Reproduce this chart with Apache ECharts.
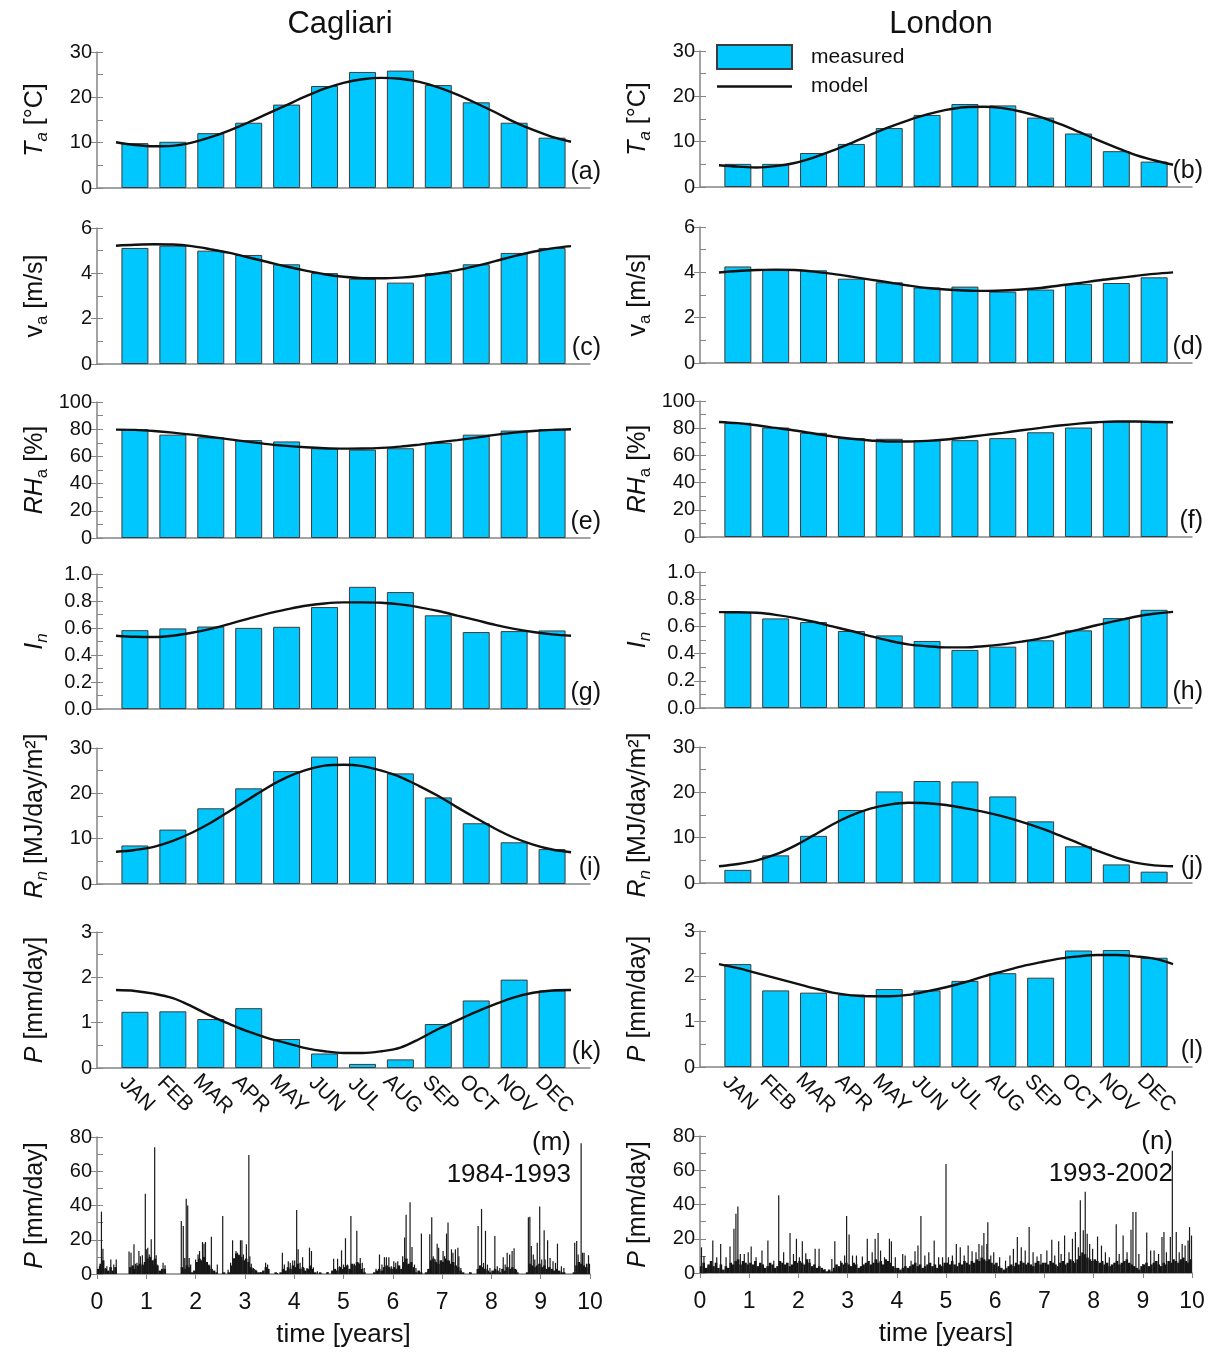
<!DOCTYPE html>
<html>
<head>
<meta charset="utf-8">
<title>Cagliari / London climate</title>
<script src="https://cdn.jsdelivr.net/npm/echarts@6/dist/echarts.min.js"></script>
<style>
  html, body { margin: 0; padding: 0; background: #fff; }
  #chart { width: 1215px; height: 1353px; }
</style>
</head>
<body>
<div id="chart"></div>
<script>
// ---------- data ----------
const MONTHS = ['JAN', 'FEB', 'MAR', 'APR', 'MAY', 'JUN', 'JUL', 'AUG', 'SEP', 'OCT', 'NOV', 'DEC'];
// sampling times (in months) of the fitted model curves
const MODEL_T = [0.5, 1, 1.5, 2, 2.5, 3, 3.5, 4, 4.5, 5, 5.5, 6, 6.5, 7, 7.5, 8, 8.5, 9, 9.5, 10, 10.5, 11, 11.5, 12, 12.5];

// air temperature [°C]
const caTa = [9.9, 10.2, 12.1, 14.4, 18.4, 22.5, 25.6, 25.9, 22.7, 18.9, 14.4, 11.1];
const caTaModel = [10.1, 9.5, 9.2, 9.3, 10.0, 11.2, 12.7, 14.5, 16.4, 18.3, 20.2, 21.9, 23.2, 24.0, 24.3, 24.1, 23.4, 22.2, 20.6, 18.7, 16.7, 14.6, 12.8, 11.3, 10.2];
const laTa = [5.1, 5.1, 7.5, 9.5, 13.0, 15.9, 18.3, 18.0, 15.3, 11.8, 7.9, 5.6];
const laTaModel = [4.8, 4.5, 4.3, 4.6, 5.3, 6.5, 8.0, 9.7, 11.5, 13.2, 14.7, 16.0, 17.0, 17.6, 17.7, 17.4, 16.6, 15.4, 13.9, 12.2, 10.4, 8.7, 7.1, 5.9, 4.9];

// wind speed [m/s]
const caVa = [5.12, 5.22, 5.0, 4.81, 4.4, 4.01, 3.76, 3.59, 4.01, 4.4, 4.9, 5.12];
const caVaModel = [5.22, 5.26, 5.28, 5.27, 5.2, 5.06, 4.9, 4.7, 4.5, 4.3, 4.12, 3.96, 3.85, 3.79, 3.78, 3.81, 3.88, 3.99, 4.14, 4.33, 4.54, 4.76, 4.95, 5.1, 5.2];
const laVa = [4.26, 4.1, 4.09, 3.72, 3.56, 3.33, 3.37, 3.15, 3.24, 3.49, 3.53, 3.78];
const laVaModel = [3.99, 4.06, 4.1, 4.12, 4.1, 4.03, 3.93, 3.81, 3.68, 3.55, 3.42, 3.31, 3.24, 3.2, 3.18, 3.2, 3.24, 3.31, 3.42, 3.52, 3.64, 3.74, 3.84, 3.93, 4.0];

// relative humidity [%]
const caRh = [80, 76, 74, 72, 71, 66, 65, 66, 70, 76, 79, 80];
const caRhModel = [79.7, 79.5, 78.7, 77.5, 76, 74.3, 72.5, 70.7, 69, 67.7, 66.7, 66, 65.7, 65.8, 66.3, 67.2, 68.7, 70.4, 72, 73.8, 75.8, 77.5, 78.7, 79.5, 80];
const laRh = [84, 80.5, 76.6, 72.7, 72.2, 71.2, 71.2, 72.7, 77, 80.5, 85.1, 85.1];
const laRhModel = [84.6, 83.7, 82.2, 80.2, 78.3, 76.1, 73.9, 72.2, 71, 70.2, 70.2, 70.7, 71.7, 73.2, 74.9, 76.6, 78.5, 80.2, 82, 83.4, 84.4, 84.9, 84.9, 84.6, 84.4];

// clearness index
const caIn = [0.584, 0.597, 0.611, 0.601, 0.609, 0.755, 0.905, 0.866, 0.694, 0.57, 0.577, 0.582];
const caInModel = [0.543, 0.535, 0.533, 0.543, 0.565, 0.594, 0.631, 0.67, 0.707, 0.738, 0.765, 0.782, 0.79, 0.79, 0.787, 0.775, 0.753, 0.726, 0.692, 0.658, 0.623, 0.594, 0.57, 0.553, 0.543];
const laIn = [0.702, 0.659, 0.632, 0.566, 0.534, 0.493, 0.427, 0.451, 0.498, 0.571, 0.661, 0.722];
const laInModel = [0.705, 0.705, 0.7, 0.685, 0.663, 0.634, 0.6, 0.566, 0.529, 0.495, 0.468, 0.454, 0.446, 0.446, 0.454, 0.468, 0.488, 0.512, 0.544, 0.576, 0.61, 0.641, 0.671, 0.693, 0.707];

// net radiation [MJ/day/m²]
const caRn = [8.5, 12.0, 16.7, 21.1, 24.9, 28.1, 28.1, 24.4, 19.1, 13.4, 9.2, 7.7];
const caRnModel = [7.1, 7.5, 8.2, 9.5, 11.3, 13.5, 16.1, 18.7, 21.3, 23.5, 25.1, 26.1, 26.3, 26.0, 25.0, 23.6, 21.6, 19.4, 16.9, 14.5, 12.2, 10.2, 8.7, 7.6, 7.0];
const laRn = [2.9, 6.1, 10.4, 16.1, 20.2, 22.5, 22.4, 19.1, 13.6, 8.1, 4.1, 2.5];
const laRnModel = [3.7, 4.2, 5.0, 6.3, 8.2, 10.5, 12.9, 14.9, 16.4, 17.3, 17.7, 17.6, 17.2, 16.5, 15.7, 14.7, 13.5, 12.1, 10.5, 8.8, 7.1, 5.6, 4.5, 3.9, 3.7];

// precipitation [mm/day]
const caP = [1.24, 1.25, 1.08, 1.32, 0.64, 0.32, 0.09, 0.19, 0.97, 1.49, 1.95, 1.71];
const caPModel = [1.72, 1.70, 1.64, 1.54, 1.36, 1.15, 0.97, 0.80, 0.66, 0.55, 0.44, 0.37, 0.33, 0.33, 0.37, 0.45, 0.64, 0.86, 1.05, 1.24, 1.41, 1.56, 1.66, 1.71, 1.72];
const laP = [2.27, 1.69, 1.64, 1.6, 1.72, 1.69, 1.9, 2.07, 1.97, 2.57, 2.58, 2.41];
const laPModel = [2.27, 2.18, 2.07, 1.96, 1.85, 1.74, 1.64, 1.58, 1.56, 1.56, 1.59, 1.67, 1.76, 1.87, 2.0, 2.11, 2.22, 2.31, 2.39, 2.44, 2.47, 2.47, 2.44, 2.39, 2.27];

// daily rainfall records: individual rain days [time in years, P in mm/day]
const caDailyPeaks = [
  [0.05, 4.5], [0.09, 36.4], [0.12, 14.8], [0.17, 3.5], [0.2, 4.5], [0.28, 8.5], [0.34, 5.5], [0.39, 8.5],
  [0.65, 13.2], [0.69, 12.4], [0.75, 17.3], [0.78, 6], [0.81, 6.5], [0.85, 13.4], [0.88, 10.4], [0.92, 11], [0.95, 5.5],
  [0.98, 46.9], [1.0, 14.4], [1.03, 15.4], [1.06, 11.4], [1.1, 20.3], [1.14, 5.5], [1.17, 74], [1.2, 11], [1.22, 5.5],
  [1.34, 6.5], [1.38, 5.1],
  [1.71, 31], [1.75, 28.1], [1.78, 9.4], [1.81, 43.9], [1.84, 40], [1.87, 9.4], [1.9, 5.5],
  [2.0, 8.5], [2.02, 5.5], [2.05, 11.4], [2.08, 13.4], [2.1, 8.5], [2.14, 18.7], [2.17, 17.7], [2.2, 18.7], [2.22, 6.5],
  [2.27, 5.5], [2.32, 21.7], [2.44, 5.5], [2.55, 33.9], [2.66, 2.5],
  [2.71, 6.5], [2.75, 19.7], [2.78, 9.4], [2.82, 13.4], [2.85, 12.4], [2.88, 11.4], [2.91, 19.7], [2.94, 19.7], [2.97, 11.4],
  [3.0, 5.5], [3.03, 17.3], [3.08, 69.5], [3.1, 10.4], [3.13, 6], [3.17, 3.5], [3.22, 2.5], [3.32, 1.2], [3.42, 6.5], [3.46, 5.5],
  [3.66, 0.6], [3.76, 12.4], [3.8, 5.5], [3.88, 7.5], [3.92, 6.5], [3.97, 7.9], [4.01, 7.9], [4.05, 37.4], [4.08, 14.4],
  [4.12, 6.5], [4.17, 9.8], [4.2, 3.5], [4.26, 3.5], [4.31, 15.4], [4.35, 13.4], [4.39, 3.9], [4.47, 1.6], [4.54, 0.6], [4.68, 1.2],
  [4.8, 8.9], [4.88, 8.9], [4.92, 4.5], [4.96, 13.8], [5.0, 5.5], [5.04, 20.9], [5.08, 5.5], [5.15, 33.9], [5.18, 5.5],
  [5.22, 6], [5.27, 25.2], [5.31, 6.5], [5.34, 9.4], [5.38, 6.5], [5.42, 3.5],
  [5.66, 3.1], [5.73, 11.4], [5.78, 5.5], [5.83, 9.8], [5.87, 9.8], [5.92, 9.8], [5.97, 4.5], [6.02, 7.5], [6.06, 6.5],
  [6.1, 7.5], [6.2, 10.4], [6.24, 21.3], [6.27, 34.6], [6.3, 5.5], [6.35, 41.9], [6.39, 15.7], [6.44, 5.5], [6.47, 3.5], [6.58, 23.6],
  [6.71, 1.6], [6.75, 23.2], [6.79, 33.1], [6.82, 10.4], [6.86, 8.5], [6.9, 17.7], [6.93, 15.4], [6.97, 7.5], [7.02, 13.4],
  [7.05, 10.4], [7.09, 23.6], [7.12, 30.1], [7.15, 7.5], [7.19, 14.4], [7.22, 12.4], [7.27, 14.4], [7.32, 15.4], [7.34, 10.4],
  [7.38, 3.5], [7.56, 1],
  [7.73, 28.1], [7.77, 4.5], [7.8, 38], [7.84, 6.5], [7.88, 25.2], [7.92, 5.5], [7.97, 3.5], [8.07, 22.2], [8.12, 4.5],
  [8.17, 3.5], [8.24, 9.8], [8.28, 5.5], [8.32, 12.4], [8.37, 11.4], [8.42, 13.4], [8.46, 15], [8.51, 2.5],
  [8.75, 33.1], [8.78, 33.5], [8.81, 16.3], [8.85, 11.4], [8.88, 8.5], [8.93, 18.3], [8.98, 39.4], [9.02, 8.5], [9.07, 25.6],
  [9.09, 8.5], [9.14, 19.7], [9.19, 9.4], [9.25, 7.5], [9.3, 6.5], [9.34, 17.7], [9.42, 4.5], [9.47, 3.5],
  [9.69, 18.3], [9.73, 19.3], [9.76, 11.4], [9.82, 76.4], [9.85, 12.4], [9.88, 12.4], [9.93, 6], [9.97, 11]
];
// background drizzle level, one value per 0.05-year slot
const caDailyBase = [
  3, 6, 8, 3, 2, 4, 2, 4, 0, 0, 0, 0, 0, 4, 5, 3, 5, 6, 5, 7,
  9, 10, 8, 9, 5, 2, 3, 3, 0, 0, 0, 0, 0, 0, 4, 3, 5, 4, 1, 2,
  7, 9, 8, 10, 7, 5, 3, 2, 1, 0, 0, 1, 0, 1, 5, 9, 12, 11, 10, 8,
  9, 7, 4, 3, 2, 1, 1, 2, 4, 3, 0, 0, 1, 0, 1, 3, 2, 4, 3, 5,
  4, 6, 3, 4, 2, 3, 5, 3, 1, 0, 1, 0, 0, 1, 0, 2, 3, 2, 4, 3,
  4, 5, 3, 6, 5, 7, 6, 3, 1, 0, 0, 0, 1, 2, 3, 2, 4, 5, 4, 3,
  4, 3, 5, 3, 7, 9, 6, 7, 4, 1, 2, 1, 0, 1, 3, 8, 9, 7, 6, 8,
  7, 9, 8, 6, 7, 5, 4, 2, 1, 0, 0, 1, 0, 0, 3, 5, 4, 3, 2, 1,
  2, 3, 2, 1, 3, 2, 4, 3, 4, 3, 1, 0, 0, 0, 1, 6, 5, 4, 5, 6,
  4, 5, 3, 4, 3, 2, 3, 2, 1, 1, 0, 0, 0, 1, 5, 7, 6, 5, 4, 6
];

const laDailyPeaks = [
  [0.03, 15], [0.08, 10], [0.16, 3.4], [0.26, 19], [0.34, 9.2], [0.42, 17], [0.53, 9.2], [0.61, 15.5], [0.69, 25.8],
  [0.73, 34.6], [0.77, 38.9], [0.82, 11.1], [0.9, 11.1], [0.98, 12.1], [1.04, 15.5], [1.14, 9.2], [1.26, 13.1], [1.38, 19],
  [1.5, 7.2], [1.6, 45.4], [1.7, 12.1], [1.83, 23.3], [1.9, 11.1], [1.96, 20], [2.02, 9.2], [2.08, 18.6], [2.15, 11.5],
  [2.23, 8.2], [2.34, 14.1], [2.42, 14.1], [2.54, 2.3], [2.68, 8.2], [2.74, 18.6], [2.86, 7.2], [2.94, 10.2], [2.98, 33.3],
  [3.03, 22.5], [3.1, 10.2], [3.18, 10.2], [3.3, 9.6], [3.4, 20], [3.5, 12.1], [3.56, 20], [3.62, 23.3], [3.67, 13.1],
  [3.75, 9.2], [3.85, 20], [3.89, 18.6], [3.97, 9.2], [4.12, 11.1], [4.17, 10.2], [4.29, 7.2], [4.37, 12.7], [4.43, 16],
  [4.49, 33.3], [4.57, 10.2], [4.65, 12.1], [4.76, 19], [4.85, 9.2], [4.93, 9.2], [5.0, 63.6], [5.05, 9.2], [5.13, 10.2],
  [5.21, 17], [5.29, 15], [5.37, 10.2], [5.45, 16], [5.53, 12.7], [5.61, 12.1], [5.67, 17], [5.73, 16], [5.77, 23.3],
  [5.83, 17], [5.85, 29.7], [5.91, 10.2], [5.97, 12.1], [6.09, 9.2], [6.21, 7.2], [6.3, 10.2], [6.37, 14.1], [6.45, 21],
  [6.53, 15], [6.61, 13.1], [6.69, 26.8], [6.77, 12.1], [6.85, 9.6], [6.93, 11.1], [7.05, 13.1], [7.15, 19.4], [7.21, 10.2],
  [7.29, 18.6], [7.34, 11.1], [7.41, 21.9], [7.5, 12.1], [7.57, 20], [7.63, 23.9], [7.69, 15], [7.73, 42.5], [7.79, 24.9],
  [7.83, 47.4], [7.87, 22.9], [7.92, 17], [7.98, 14.1], [8.08, 21.3], [8.16, 16], [8.24, 12.1], [8.32, 9.2], [8.46, 28.4],
  [8.52, 11.1], [8.6, 21.9], [8.68, 12.1], [8.76, 25.2], [8.8, 35.6], [8.86, 35.6], [8.92, 11.1], [9.0, 5.3], [9.08, 23.7],
  [9.16, 13.1], [9.23, 13.1], [9.32, 11.1], [9.39, 21], [9.43, 23.9], [9.48, 12.1], [9.56, 21], [9.6, 71.4], [9.68, 23.9],
  [9.74, 12.1], [9.8, 17], [9.86, 16], [9.92, 19], [9.95, 26.8], [9.99, 21.9]
];
const laDailyBase = [
  4, 6, 3, 5, 7, 4, 6, 3, 5, 2, 4, 3, 6, 5, 7, 8, 5, 7, 6, 5,
  6, 5, 7, 4, 6, 5, 3, 4, 6, 5, 3, 4, 7, 6, 5, 6, 4, 5, 7, 6,
  7, 6, 5, 8, 6, 4, 5, 3, 4, 3, 2, 1, 2, 1, 3, 5, 4, 6, 5, 6,
  5, 4, 6, 5, 3, 4, 5, 6, 7, 5, 6, 8, 6, 7, 5, 8, 7, 6, 4, 3,
  3, 2, 3, 4, 3, 4, 5, 6, 4, 5, 3, 4, 5, 6, 4, 5, 3, 5, 4, 6,
  6, 5, 7, 5, 4, 6, 5, 7, 6, 5, 7, 6, 8, 7, 9, 8, 7, 8, 6, 5,
  6, 4, 3, 2, 3, 4, 5, 4, 6, 5, 7, 6, 5, 6, 5, 4, 6, 7, 5, 6,
  6, 5, 7, 6, 5, 4, 6, 7, 5, 6, 8, 7, 6, 8, 10, 12, 11, 9, 8, 7,
  8, 7, 6, 7, 5, 6, 4, 5, 6, 7, 5, 6, 7, 8, 6, 5, 4, 3, 2, 4,
  5, 6, 4, 5, 6, 7, 5, 4, 6, 5, 7, 6, 8, 7, 6, 8, 9, 7, 6, 8
];
const BASE_STEP = 0.05; // years per background slot

// ---------- styling & layout ----------
const FONT = '"Liberation Sans", Arial, Helvetica, sans-serif';
const INK = '#111';
const AXIS_COLOR = '#858585';
const BAR_FILL = '#00c8ff';
const BAR_EDGE = '#3c3c3c';
const TICK_FONT = 20;

const COLS = [{ left: 97, width: 493 }, { left: 700, width: 492 }];
const ROWS = [
  [[52, 136], [228, 136], [402, 136], [574, 135], [748, 136], [932, 136], [1137, 137]],
  [[51, 136], [227, 136], [401, 136], [572, 136], [747, 136], [931, 136], [1136, 137]]
];

const NAME_RICH = {
  it: { fontStyle: 'italic', fontSize: 25, fontFamily: FONT, color: INK, lineHeight: 32 },
  rm: { fontSize: 25, fontFamily: FONT, color: INK, lineHeight: 32 },
  si: { fontStyle: 'italic', fontSize: 17, fontFamily: FONT, color: INK, lineHeight: 13, verticalAlign: 'bottom' },
  sr: { fontSize: 17, fontFamily: FONT, color: INK, lineHeight: 13, verticalAlign: 'bottom' }
};

const PANELS = [
  { name: '{it|T}{si|a}{rm| [°C]}', max: 30, step: 10, dec: 0, data: [caTa, laTa], model: [caTaModel, laTaModel], tags: ['(a)', '(b)'] },
  { name: '{rm|v}{sr|a}{rm| [m/s]}', max: 6, step: 2, dec: 0, data: [caVa, laVa], model: [caVaModel, laVaModel], tags: ['(c)', '(d)'] },
  { name: '{it|RH}{sr|a}{rm| [%]}', max: 100, step: 20, dec: 0, data: [caRh, laRh], model: [caRhModel, laRhModel], tags: ['(e)', '(f)'] },
  { name: '{it|I}{si|n}', max: 1, step: 0.2, dec: 1, data: [caIn, laIn], model: [caInModel, laInModel], tags: ['(g)', '(h)'] },
  { name: '{it|R}{si|n}{rm| [MJ/day/m²]}', max: 30, step: 10, dec: 0, data: [caRn, laRn], model: [caRnModel, laRnModel], tags: ['(i)', '(j)'] },
  { name: '{it|P}{rm| [mm/day]}', max: 3, step: 1, dec: 0, data: [caP, laP], model: [caPModel, laPModel], tags: ['(k)', '(l)'] }
];

const grids = [], xAxes = [], yAxes = [], series = [], graphics = [];

function textEl(text, x, y, size, align) {
  return {
    type: 'text', x: x, y: y, silent: true,
    style: { text: text, fontSize: size, fontFamily: FONT, fill: INK, align: align || 'center', verticalAlign: 'middle' }
  };
}

function addGrid(col, row) {
  const [top, height] = ROWS[col][row];
  const { left, width } = COLS[col];
  grids.push({ left: left, top: top, width: width, height: height, outerBoundsMode: 'none' });
  return { gi: grids.length - 1, left, top, width, height };
}

// value axis with crossing ticks: outward major ticks + inward major/minor ticks on a twin axis
function addYAxes(gi, max, step, dec, name) {
  const yi = yAxes.length;
  yAxes.push({
    type: 'value', gridIndex: gi, min: 0, max: max, interval: step, position: 'left',
    axisLine: { show: true, lineStyle: { color: AXIS_COLOR, width: 1.5 } },
    axisTick: { show: true, length: 6, lineStyle: { color: AXIS_COLOR, width: 1 } },
    axisLabel: { fontSize: TICK_FONT, fontFamily: FONT, color: INK, margin: 5, formatter: v => v.toFixed(dec) },
    splitLine: { show: false },
    name: name, nameLocation: 'middle', nameRotate: 90, nameGap: 46,
    nameTextStyle: { rich: NAME_RICH }
  });
  yAxes.push({
    type: 'value', gridIndex: gi, min: 0, max: max, interval: step, position: 'left',
    axisLine: { show: false }, axisLabel: { show: false }, splitLine: { show: false },
    axisTick: { show: true, inside: true, length: 6, lineStyle: { color: AXIS_COLOR, width: 1 } },
    minorTick: { show: true, splitNumber: 2, length: 6, lineStyle: { color: AXIS_COLOR, width: 1 } }
  });
  return yi;
}

function addMonthlyPanel(col, row, p) {
  const g = addGrid(col, row);
  const xi = xAxes.length;
  xAxes.push({
    type: 'value', gridIndex: g.gi, min: 0, max: 13, interval: 1,
    axisLine: { show: true, lineStyle: { color: AXIS_COLOR, width: 1.5 } },
    axisTick: { show: false }, splitLine: { show: false },
    axisLabel: {
      show: row === PANELS.length - 1, rotate: -45, fontSize: 21, fontFamily: FONT, color: INK,
      margin: 24, align: 'center', verticalAlign: 'middle', padding: [0, 0, 0, 6],
      formatter: v => MONTHS[v - 1] || ''
    }
  });
  const yi = addYAxes(g.gi, p.max, p.step, p.dec, p.name);
  series.push({
    type: 'bar', name: 'measured', xAxisIndex: xi, yAxisIndex: yi, barWidth: 27,
    data: p.data[col].map((v, i) => [i + 1, v]),
    itemStyle: { color: BAR_FILL, borderColor: BAR_EDGE, borderWidth: 1 }
  });
  series.push({
    type: 'line', name: 'model', xAxisIndex: xi, yAxisIndex: yi, smooth: 0.35, symbol: 'none', z: 5,
    data: MODEL_T.map((t, i) => [t, p.model[col][i]]),
    lineStyle: { color: INK, width: 2.4 }, itemStyle: { color: INK }
  });
  graphics.push(textEl(p.tags[col], g.left + g.width + 11, g.top + g.height - 16, 25, 'right'));
}

function addDailyPanel(col, peaks, base, tag, period) {
  const g = addGrid(col, 6);
  const xi = xAxes.length;
  xAxes.push({
    type: 'value', gridIndex: g.gi, min: 0, max: 10, interval: 1,
    axisLine: { show: true, lineStyle: { color: AXIS_COLOR, width: 1.5 } },
    axisTick: { show: true, length: 5, lineStyle: { color: AXIS_COLOR } },
    splitLine: { show: false },
    axisLabel: { fontSize: 23, fontFamily: FONT, color: INK, margin: 17 },
    name: 'time [years]', nameLocation: 'middle', nameGap: 48,
    nameTextStyle: { fontSize: 26, fontFamily: FONT, color: INK }
  });
  const xb = xAxes.length;
  xAxes.push({ type: 'value', gridIndex: g.gi, min: 0, max: 10, show: false });
  const yi = addYAxes(g.gi, 80, 20, 0, '{it|P}{rm| [mm/day]}');
  series.push({
    type: 'bar', xAxisIndex: xb, yAxisIndex: yi, barWidth: 2.6, silent: true,
    data: base.map((v, i) => [(i + 0.5) * BASE_STEP, v]),
    itemStyle: { color: '#141414' }
  });
  series.push({
    type: 'bar', xAxisIndex: xi, yAxisIndex: yi, barWidth: 1.2, silent: true, z: 3,
    data: peaks, itemStyle: { color: '#1a1a1a' }
  });
  const right = g.left + g.width - 19;
  graphics.push(textEl(tag, right, g.top + 6, 26, 'right'));
  graphics.push(textEl(period, right, g.top + 38, 26, 'right'));
}

PANELS.forEach((p, row) => { addMonthlyPanel(0, row, p); addMonthlyPanel(1, row, p); });
addDailyPanel(0, caDailyPeaks, caDailyBase, '(m)', '1984-1993');
addDailyPanel(1, laDailyPeaks, laDailyBase, '(n)', '1993-2002');

graphics.push(textEl('Cagliari', 340, 24, 31));
graphics.push(textEl('London', 941, 24, 31));

const chart = echarts.init(document.getElementById('chart'), null, { renderer: 'canvas' });
chart.setOption({
  backgroundColor: '#fff',
  animation: false,
  textStyle: { fontFamily: FONT },
  legend: {
    orient: 'vertical', left: 716, top: 44, padding: 0,
    itemWidth: 75, itemHeight: 24, itemGap: 6, selectedMode: false,
    data: [
      { name: 'measured', icon: 'rect' },
      { name: 'model', icon: 'path://M0,0 L75,0 L75,2.4 L0,2.4 Z' }
    ],
    textStyle: { fontSize: 21, fontFamily: FONT, color: INK, padding: [0, 0, 0, 14] }
  },
  grid: grids,
  xAxis: xAxes,
  yAxis: yAxes,
  series: series,
  graphic: graphics
});
</script>
</body>
</html>
